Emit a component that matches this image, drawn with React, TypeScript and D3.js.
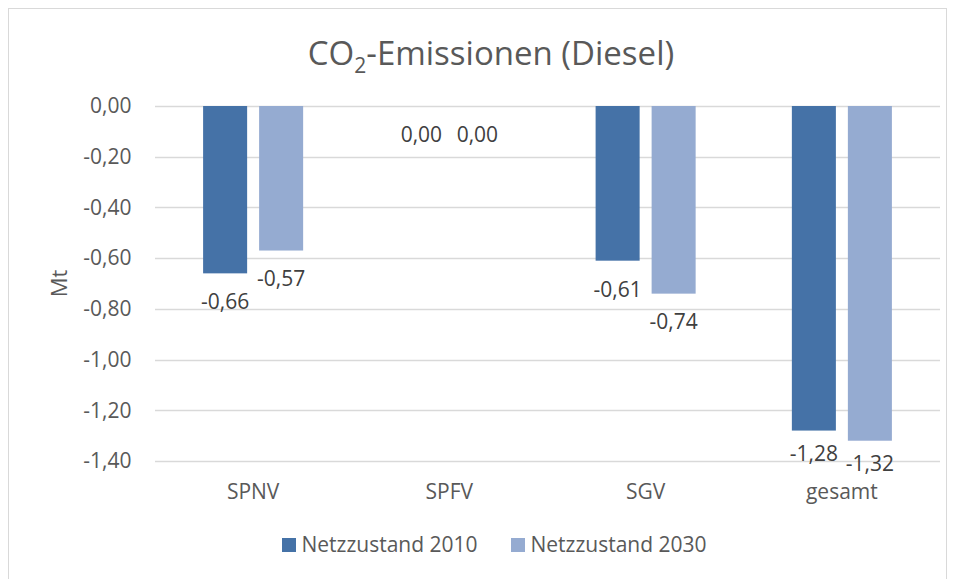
import React, { useEffect, useRef } from "react";
import * as d3 from "d3";

const categories = ["SPNV", "SPFV", "SGV", "gesamt"];
const seriesNames = ["Netzzustand 2010", "Netzzustand 2030"];
const values2010 = [-0.66, 0.0, -0.61, -1.28];
const values2030 = [-0.57, 0.0, -0.74, -1.32];
const yTicks = [0, -0.2, -0.4, -0.6, -0.8, -1.0, -1.2, -1.4];
const colors = ["#4572A7", "#95ABD1"];

const locale = d3.formatLocale({
  decimal: ",",
  thousands: ".",
  grouping: [3],
  currency: ["", " €"],
  minus: "-",
});
const fmt = locale.format(".2f");

const App = () => {
  const svgRef = useRef<SVGSVGElement>(null);

  useEffect(() => {
    const svg = d3.select(svgRef.current);
    svg.selectAll("*").remove();

    const width = 957;
    const height = 579;
    const margin = { top: 106, right: 17, bottom: 118, left: 155 };
    const font = "'Open Sans', sans-serif";
    const textColor = "#595959";
    const fs = 21;

    svg.attr("width", width).attr("height", height);

    // chart frame
    svg.append("rect")
      .attr("x", 8.5)
      .attr("y", 8.5)
      .attr("width", 938)
      .attr("height", 580)
      .attr("fill", "#fff")
      .attr("stroke", "#d9d9d9")
      .attr("stroke-width", 1);

    const x0 = d3.scaleBand()
      .domain(categories)
      .range([margin.left, width - margin.right]);

    const x1 = d3.scaleBand()
      .domain(seriesNames)
      .range([0, x0.bandwidth()])
      .paddingInner(0.214)
      .paddingOuter(0.859);

    const y = d3.scaleLinear()
      .domain([-1.4, 0])
      .range([height - margin.bottom, margin.top]);

    // gridlines + tick labels
    const grid = svg.append("g");
    yTicks.forEach(t => {
      grid.append("line")
        .attr("x1", margin.left)
        .attr("x2", width - margin.right)
        .attr("y1", Math.round(y(t)) + 0.5)
        .attr("y2", Math.round(y(t)) + 0.5)
        .attr("stroke", "#d9d9d9")
        .attr("stroke-width", 1.5);
      grid.append("text")
        .attr("x", 131.5)
        .attr("y", y(t))
        .attr("dy", "0.35em")
        .attr("text-anchor", "end")
        .attr("font-family", font)
        .attr("font-size", fs)
        .attr("fill", textColor)
        .text(fmt(t));
    });

    const series = [values2010, values2030];

    series.forEach((vals, si) => {
      const g = svg.append("g");
      g.selectAll("rect")
        .data(vals)
        .enter()
        .append("rect")
        .attr("x", (_, i) => x0(categories[i])! + x1(seriesNames[si])!)
        .attr("y", d => y(Math.max(0, d)))
        .attr("width", x1.bandwidth())
        .attr("height", d => Math.abs(y(d) - y(0)))
        .attr("fill", colors[si]);

      g.selectAll("text")
        .data(vals)
        .enter()
        .append("text")
        .attr("x", (_, i) => x0(categories[i])! + x1(seriesNames[si])! + x1.bandwidth() / 2)
        .attr("y", d => y(d) + (d < -1.2 ? 23 : 28.5))
        .attr("dy", "0.35em")
        .attr("text-anchor", "middle")
        .attr("font-family", font)
        .attr("font-size", fs)
        .attr("fill", "#404040")
        .text(d => fmt(d));
    });

    // category labels
    svg.append("g")
      .selectAll("text")
      .data(categories)
      .enter()
      .append("text")
      .attr("x", d => x0(d)! + x0.bandwidth() / 2)
      .attr("y", 492)
      .attr("dy", "0.35em")
      .attr("text-anchor", "middle")
      .attr("font-family", font)
      .attr("font-size", fs)
      .attr("fill", textColor)
      .text(d => d);

    // y axis title
    svg.append("text")
      .attr("transform", `translate(59,${(y(0) + y(-1.4)) / 2}) rotate(-90)`)
      .attr("dy", "0.35em")
      .attr("text-anchor", "middle")
      .attr("font-family", font)
      .attr("font-size", 22)
      .attr("fill", textColor)
      .text("Mt");

    // title
    const title = svg.append("text")
      .attr("x", 491)
      .attr("y", 65)
      .attr("text-anchor", "middle")
      .attr("font-family", font)
      .attr("font-size", 33)
      .attr("fill", textColor);
    title.append("tspan").text("CO");
    title.append("tspan").attr("font-size", 21).attr("dy", 8).text("2");
    title.append("tspan").attr("dy", -8).text("-Emissionen (Diesel)");

    // legend
    const legendX = [282, 511];
    seriesNames.forEach((name, i) => {
      svg.append("rect")
        .attr("x", legendX[i])
        .attr("y", 538)
        .attr("width", 14)
        .attr("height", 14)
        .attr("fill", colors[i]);
      svg.append("text")
        .attr("x", legendX[i] + 19.5)
        .attr("y", 545)
        .attr("dy", "0.35em")
        .attr("font-family", font)
        .attr("font-size", fs)
        .attr("fill", textColor)
        .text(name);
    });
  }, []);

  return <svg ref={svgRef} style={{ position: "absolute", left: 0, top: 0 }}></svg>;
};

export default App;
